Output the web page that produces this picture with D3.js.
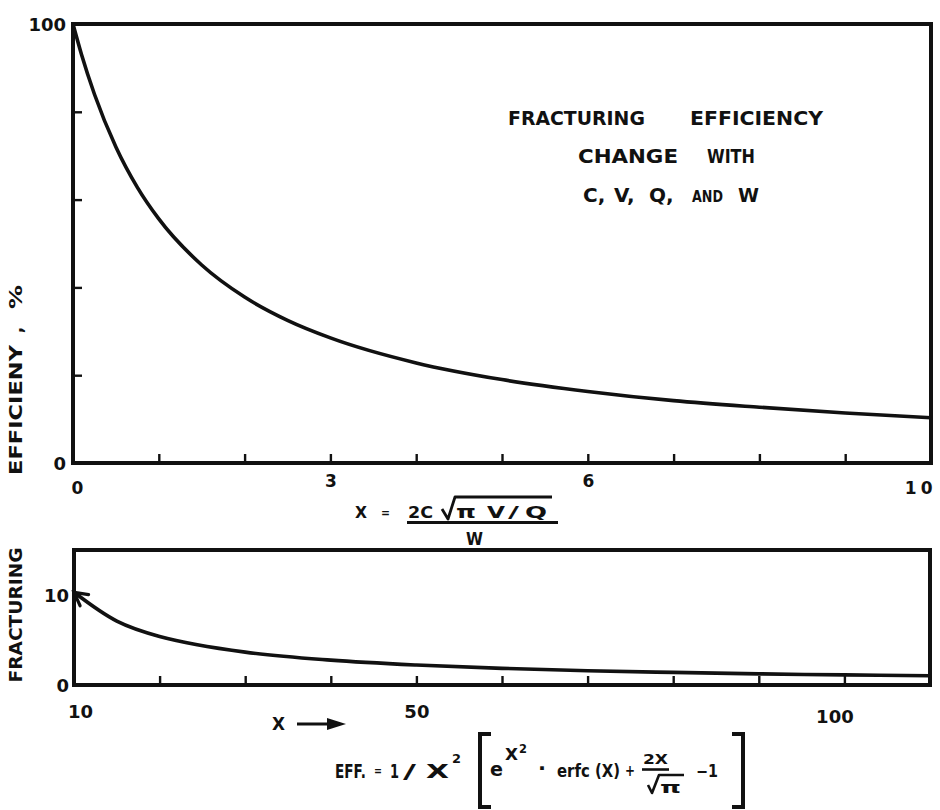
<!DOCTYPE html>
<html>
<head>
<meta charset="utf-8">
<script src="https://cdn.jsdelivr.net/npm/d3@7"></script>
<style>
  html, body { margin: 0; padding: 0; background: #fff; }
  svg { display: block; }
  text { font-family: "DejaVu Sans", "Liberation Sans", sans-serif; font-weight: bold; fill: #111; }
</style>
</head>
<body>
<svg id="chart" width="940" height="810"></svg>
<script>
// Upper panel: fracturing efficiency (%) for X between 0 and 10
const upperX   = [0, 0.1, 0.25, 0.5, 0.75, 1, 1.5, 2, 2.5, 3, 4, 5, 6, 7, 8, 9, 10];
const upperEff = [100, 93, 84, 72, 62.8, 55.6, 45.1, 37.8, 32.5, 28.5, 22.8, 19.0, 16.3, 14.2, 12.7, 11.4, 10.3];
const upperTicksX  = [0, 1, 2, 3, 4, 5, 6, 7, 8, 9, 10];
const upperLabelsX = [0, 3, 6, 10];
const upperTicksY  = [0, 20, 40, 60, 80, 100];
const upperLabelsY = [0, 100];

// Lower panel: the same efficiency for X between 10 and 110
const lowerX   = [10, 15, 20, 30, 40, 50, 60, 70, 80, 90, 100, 110];
const lowerEff = [10.3, 7.1, 5.4, 3.65, 2.76, 2.22, 1.85, 1.59, 1.40, 1.24, 1.12, 1.02];
const lowerTicksX  = [10, 20, 30, 40, 50, 60, 70, 80, 90, 100, 110];
const lowerLabelsX = [10, 50, 100];
const lowerLabelsY = [0, 10];

const svg = d3.select("#chart");
const ink = "#111";

// ---------- scales ----------
const xU = d3.scaleLinear().domain([0, 10]).range([73, 931]);
const yU = d3.scaleLinear().domain([0, 100]).range([463, 24]);
const xL = d3.scaleLinear().domain([10, 110]).range([74, 930]);
const yL = d3.scaleLinear().domain([0, 15]).range([685, 550]);

// lettering helper: a word placed at (x, y), optionally rotated, and
// stretched or squeezed horizontally so that it spans `len` pixels
function word(parent, x, y, s, size, len, anchor, rot) {
  const t = parent.append("text").style("font-size", size + "px").text(s);
  if (anchor) t.attr("text-anchor", anchor);
  let sx = 1;
  if (len) {
    const w = t.node().getComputedTextLength();
    if (w > 0) sx = len / w;
  }
  t.attr("transform", `translate(${x},${y})${rot ? ` rotate(${rot})` : ""} scale(${sx.toFixed(3)},1)`);
  return t;
}

// open arrow head at the start of the lower curve
svg.append("defs").append("marker")
  .attr("id", "chev")
  .attr("markerUnits", "userSpaceOnUse")
  .attr("viewBox", "-16 -10 20 20")
  .attr("markerWidth", 20).attr("markerHeight", 20)
  .attr("refX", 0).attr("refY", 0)
  .attr("orient", "auto-start-reverse")
  .append("path")
  .attr("d", "M-13,-7 L0,0 L-13,7")
  .attr("fill", "none").attr("stroke", ink).attr("stroke-width", 3.2)
  .attr("stroke-linecap", "round");

function frame(x, y) {
  const [x0, x1] = x.range(), [y0, y1] = y.range();
  svg.append("rect")
    .attr("x", x0).attr("y", y1)
    .attr("width", x1 - x0).attr("height", y0 - y1)
    .attr("fill", "none").attr("stroke", ink).attr("stroke-width", 4);
}

function styleAxis(g) {
  g.select(".domain").remove();
  g.selectAll(".tick line").attr("stroke", ink).attr("stroke-width", 2.4);
  g.selectAll(".tick text").attr("fill", ink).attr("font-family", null).attr("font-size", null);
}

// ---------- upper panel ----------
frame(xU, yU);

svg.append("g")
  .attr("transform", `translate(0,${yU(0)})`)
  .call(d3.axisBottom(xU).tickValues(upperTicksX).tickSizeInner(-9).tickSizeOuter(0)
    .tickFormat(d => upperLabelsX.includes(d) ? d : ""))
  .call(styleAxis)
  .call(g => g.selectAll(".tick text")
    .style("font-size", "17px")
    .attr("y", d => (d === 0 || d === 10) ? 25 : 18)
    .attr("dy", "0.36em")
    .attr("text-anchor", d => d === 10 ? "end" : "middle")
    .attr("dx", d => d === 0 ? 4 : d === 10 ? 5 : 0)
    .attr("letter-spacing", d => d === 10 ? "4px" : null));

svg.append("g")
  .attr("transform", `translate(${xU(0)},0)`)
  .call(d3.axisLeft(yU).tickValues(upperTicksY).tickSizeInner(-9).tickSizeOuter(0)
    .tickFormat(d => upperLabelsY.includes(d) ? d : "").tickPadding(7))
  .call(styleAxis)
  .call(g => g.selectAll(".tick text").style("font-size", "18px").attr("dy", "0.34em"));

const lineU = d3.line().x((d, i) => xU(upperX[i])).y(d => yU(d)).curve(d3.curveMonotoneX);
svg.append("path")
  .datum(upperEff)
  .attr("d", lineU)
  .attr("fill", "none").attr("stroke", ink).attr("stroke-width", 3.6);

// title block
const title = svg.append("g");
word(title, 508, 125, "FRACTURING", 20, 137);
word(title, 690, 125, "EFFICIENCY", 20, 133);
word(title, 578, 163, "CHANGE", 20, 100);
word(title, 707, 163, "WITH", 20, 48);
word(title, 583, 202, "C,", 20);
word(title, 614, 202, "V,", 20);
word(title, 649, 202, "Q,", 20);
word(title, 692, 202, "AND", 15, 31);
word(title, 738, 202, "W", 20, 21);

// X definition under the upper axis
const xdef = svg.append("g");
word(xdef, 355, 518, "X", 16, 12);
word(xdef, 381, 517, "=", 12, 9);
word(xdef, 408, 518, "2C", 16, 25);
xdef.append("path")
  .attr("d", "M442,509 L448,519 L455,497 L552,497")
  .attr("fill", "none").attr("stroke", ink).attr("stroke-width", 2.8).attr("stroke-linejoin", "round");
word(xdef, 456, 518, "π", 17, 20);
word(xdef, 487, 518, "V", 16, 18);
word(xdef, 508, 518, "/", 16, 11);
word(xdef, 525, 518, "Q", 16, 22);
xdef.append("line").attr("x1", 407).attr("x2", 558).attr("y1", 522.5).attr("y2", 522.5)
  .attr("stroke", ink).attr("stroke-width", 3);
word(xdef, 466, 545, "W", 17, 17);

// ---------- lower panel ----------
frame(xL, yL);

svg.append("g")
  .attr("transform", `translate(0,${yL(0)})`)
  .call(d3.axisBottom(xL).tickValues(lowerTicksX).tickSizeInner(-9).tickSizeOuter(0)
    .tickFormat(d => lowerLabelsX.includes(d) ? d : ""))
  .call(styleAxis)
  .call(g => g.selectAll(".tick text")
    .style("font-size", "18px")
    .attr("y", d => d === 100 ? 32 : 27)
    .attr("dy", "0.36em")
    .attr("dx", d => d === 10 ? 6 : d === 100 ? -10 : 0));

svg.append("g")
  .attr("transform", `translate(${xL(10)},0)`)
  .call(d3.axisLeft(yL).tickValues(lowerLabelsY).tickSize(0).tickPadding(5))
  .call(styleAxis)
  .call(g => g.selectAll(".tick text").style("font-size", "18px").attr("dy", "0.34em"));

const lineL = d3.line().x((d, i) => xL(lowerX[i])).y(d => yL(d)).curve(d3.curveCatmullRom.alpha(0.5));
svg.append("path")
  .datum(lowerEff)
  .attr("d", lineL)
  .attr("fill", "none").attr("stroke", ink).attr("stroke-width", 3.6)
  .attr("marker-start", "url(#chev)");

// "X →" direction note
word(svg, 272, 730, "X", 17, 13);
svg.append("line").attr("x1", 297).attr("x2", 332).attr("y1", 724).attr("y2", 724)
  .attr("stroke", ink).attr("stroke-width", 3);
svg.append("path").attr("d", "M327,718 L346,724 L327,730 Z").attr("fill", ink);

// efficiency formula
const eff = svg.append("g");
word(eff, 335, 778, "EFF.", 20, 31);
word(eff, 374, 775, "=", 12, 8);
word(eff, 390, 778, "1", 20, 9);
word(eff, 403, 778, "/", 20, 13);
word(eff, 426, 778, "X", 19, 23);
word(eff, 452, 763, "2", 13, 9);
const bracket = (xv, dir) => `M${xv + 11 * dir},734 L${xv},734 L${xv},807 L${xv + 11 * dir},807`;
eff.append("path").attr("d", bracket(480, 1)).attr("fill", "none").attr("stroke", ink).attr("stroke-width", 4);
eff.append("path").attr("d", bracket(743, -1)).attr("fill", "none").attr("stroke", ink).attr("stroke-width", 4);
word(eff, 490, 776, "e", 20, 13);
word(eff, 505, 760, "X", 15, 13);
word(eff, 519, 753, "2", 12, 8);
word(eff, 538, 775, "·", 20, 8);
word(eff, 557, 777, "erfc (X)", 17, 63);
word(eff, 625, 776, "+", 16, 10);
word(eff, 643, 764, "2X", 14, 25);
eff.append("line").attr("x1", 642).attr("x2", 669).attr("y1", 769.5).attr("y2", 769.5)
  .attr("stroke", ink).attr("stroke-width", 2.6);
eff.append("path").attr("d", "M648,785 L652,793 L659,775 L684,775")
  .attr("fill", "none").attr("stroke", ink).attr("stroke-width", 2.6).attr("stroke-linejoin", "round");
word(eff, 660, 793, "π", 16, 21);
word(eff, 696, 777, "−1", 17, 22);

// vertical axis caption shared by both panels
const cap = svg.append("g");
const vlabel = (cy, s, len) => word(cap, 22, cy, s, 18, len, "middle", -90);
vlabel(615, "FRACTURING", 135);
vlabel(410, "EFFICIENY", 130);
vlabel(330, ",", 6);
vlabel(297, "%", 24);
</script>
</body>
</html>
